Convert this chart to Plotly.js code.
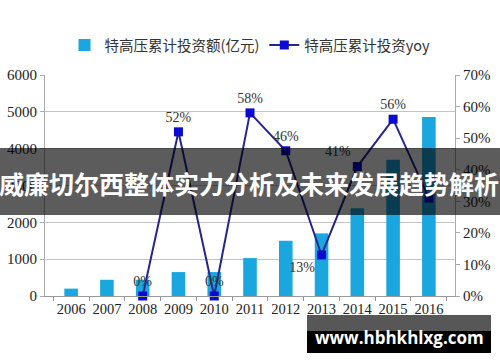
<!DOCTYPE html>
<html>
<head>
<meta charset="utf-8">
<script src="https://cdn.plot.ly/plotly-3.0.1.min.js"></script>
<style>html,body{margin:0;padding:0;background:#fff;}#chart{width:500px;height:362px;}</style>
</head>
<body>
<div id="chart"></div>
<script>
const years = ['2006','2007','2008','2009','2010','2011','2012','2013','2014','2015','2016'];
const investment = [200, 440, 440, 650, 650, 1030, 1500, 1700, 2380, 3700, 4860];
const yoy = [null, null, 0, 52, 0, 58, 46, 13, 41, 56, 31];
const yoyLabels = ['', '', '0%', '52%', '0%', '58%', '46%', '13%', '41%', '56%', ''];
const yoyLabelPos = ['top center','top center','top center','top center','top center','top center','top center','bottom left','top left','top center','top center'];
const barName = '特高压累计投资额(亿元)';
const lineName = '特高压累计投资yoy';
const bannerText = '威廉切尔西整体实力分析及未来发展趋势解析';
const watermarkText = 'www.hbhkhlxg.com';

const L = 45, R = 45, T = 75, B = 66, W = 500, H = 362;
const pw = W - L - R, ph = H - T - B;
const px = x => (x - L) / pw;
const py = y => (H - B - y) / ph;

const serif = 'Liberation Serif, Times New Roman, serif';

const data = [
  {
    type: 'bar', x: years, y: investment, name: barName,
    marker: {color: '#1aa7df'}, yaxis: 'y'
  },
  {
    type: 'scatter', mode: 'lines+markers+text', x: years, y: yoy, name: lineName,
    yaxis: 'y2', connectgaps: false,
    line: {color: '#25258f', width: 2},
    marker: {symbol: 'square', size: 9, color: '#0a0ad0'},
    text: yoyLabels, textposition: yoyLabelPos,
    textfont: {family: serif, size: 14, color: '#333'},
    cliponaxis: false
  }
];

const layout = {
  width: W, height: H,
  margin: {l: L, r: R, t: T, b: B},
  paper_bgcolor: '#fff', plot_bgcolor: '#fff',
  showlegend: true,
  legend: {
    orientation: 'h', x: 0.5, xanchor: 'center', y: 1 + 30/ph, yanchor: 'middle',
    font: {family: 'Noto Sans CJK SC, sans-serif', size: 14.5, color: '#333'},
    traceorder: 'normal', itemwidth: 30
  },
  bargap: 0.62,
  xaxis: {
    type: 'category', showgrid: false, showline: true, linecolor: '#999',
    ticks: 'outside', tickson: 'boundaries', ticklen: 4, tickcolor: '#999',
    tickangle: 0, automargin: false,
    tickfont: {family: serif, size: 14.5, color: '#222'}
  },
  yaxis: {
    range: [0, 6000], dtick: 1000, showgrid: true, gridcolor: '#c4c4c4',
    showline: true, linecolor: '#aaa', ticks: 'outside', ticklen: 4, tickcolor: '#aaa',
    tickfont: {family: serif, size: 15, color: '#222'}, zeroline: false, automargin: false
  },
  yaxis2: {
    range: [0, 70], dtick: 10, ticksuffix: '%', overlaying: 'y', side: 'right',
    showgrid: false, showline: true, linecolor: '#aaa', ticks: 'outside', ticklen: 4, tickcolor: '#aaa',
    tickfont: {family: serif, size: 15, color: '#222'}, zeroline: false, automargin: false
  },
  shapes: [
    {type: 'rect', xref: 'paper', yref: 'paper', layer: 'above',
     x0: px(0), x1: px(500), y0: py(215), y1: py(148),
     fillcolor: 'rgba(0,0,0,0.64)', line: {width: 0}},
    {type: 'rect', xref: 'paper', yref: 'paper', layer: 'above',
     x0: px(307), x1: px(491), y0: py(331), y1: py(315),
     fillcolor: 'rgba(0,0,0,0.66)', line: {width: 0}},
    {type: 'rect', xref: 'paper', yref: 'paper', layer: 'above',
     x0: px(307), x1: px(491), y0: py(353), y1: py(331),
     fillcolor: '#000', line: {width: 0}}
  ],
  annotations: [
    {xref: 'paper', yref: 'paper', x: px(249), y: py(183), showarrow: false,
     text: '<b>' + bannerText + '</b>', xanchor: 'center', yanchor: 'middle',
     font: {family: 'Noto Sans CJK SC, sans-serif', size: 25, color: '#fff'}},
    {xref: 'paper', yref: 'paper', x: px(399), y: py(337), showarrow: false,
     text: '<b>' + watermarkText + '</b>', xanchor: 'center', yanchor: 'middle',
     font: {family: 'Open Sans, sans-serif', size: 17, color: '#fff'}}
  ]
};

Plotly.newPlot('chart', data, layout, {staticPlot: true, displayModeBar: false});
</script>
</body>
</html>
